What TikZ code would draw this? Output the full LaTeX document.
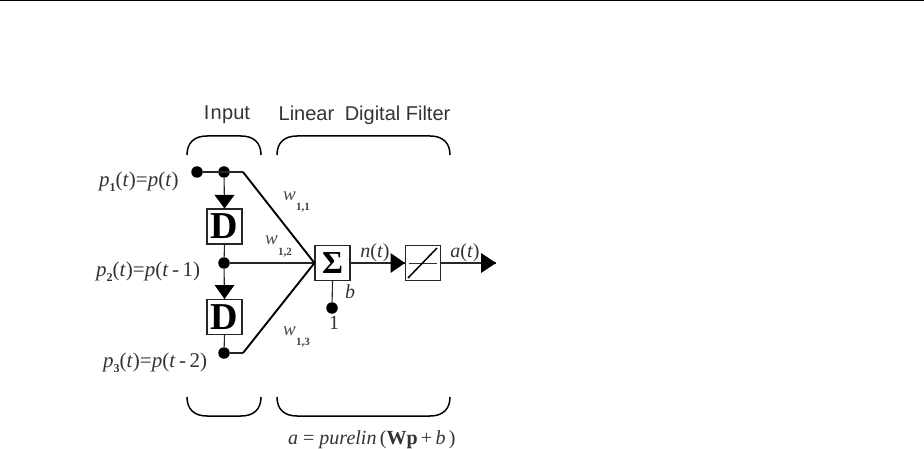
\documentclass[tikz,border=0pt]{standalone}
\usepackage{fontspec}
\setmainfont{Liberation Serif}
\setsansfont{Liberation Sans}
\tikzset{
 wire/.style={draw=black!85,line width=1.1pt},
 thick wire/.style={draw=black,line width=1.9pt},
 bracewire/.style={draw=black,line width=1.5pt},
 dotnode/.style={circle,fill=black,inner sep=0pt,minimum size=11.5pt},
 boxnode/.style={draw=black!85,fill=white,line width=1.1pt,minimum size=35pt,inner sep=0pt},
 tip/.style={fill=black,draw=none},
 lab/.style={inner sep=0pt,font=\fontsize{20pt}{20pt}\selectfont,text=black!80},
 plab/.style={inner sep=0pt,anchor=west,font=\fontsize{21pt}{21pt}\selectfont,text=black!80},
 weight/.style={inner sep=0pt,font=\fontsize{19pt}{19pt}\selectfont,text=black!70},
 wsub/.style={inner sep=0pt,font=\fontsize{11pt}{11pt}\selectfont\bfseries,text=black!75},
 head/.style={inner sep=0pt,font=\sffamily\fontsize{20pt}{20pt}\selectfont,text=black!80},
}
\newcommand{\subi}[1]{\raisebox{-5pt}{\fontsize{12pt}{12pt}\selectfont\textbf{#1}}}
\begin{document}
\begin{tikzpicture}[x=1pt,y=-1pt]
\useasboundingbox (0,0) rectangle (924,449);
\fill[white] (0,0) rectangle (924,449);
\coordinate (tl) at (0,0.8); \coordinate (tr) at (924,0.8);
\draw[black,line width=1.2pt] (tl) -- (tr);
% nodes
\node[dotnode] (p1) at (197,172) {};
\node[dotnode] (d1) at (224,172) {};
\node[dotnode] (d2) at (224,263) {};
\node[dotnode] (d3) at (224,353) {};
\node[dotnode] (bd) at (332,308) {};
\node[boxnode] (D1) at (224.5,226.5) {\fontsize{38pt}{38pt}\selectfont\textbf{D}};
\node[boxnode] (D2) at (224.5,317) {\fontsize{38pt}{38pt}\selectfont\textbf{D}};
\node[boxnode] (S) at (332.5,263) {};
\node[boxnode] (L) at (423,263) {};
\coordinate (k1) at (243,172);
\coordinate (k3) at (243,353);
\coordinate (out) at (496,263);
\node[inner sep=0pt,font=\fontsize{32pt}{32pt}\selectfont\bfseries] (sigma) at (332.5,263) {Σ};
% connectors
\draw[wire] (p1) -- (k1);
\draw[wire] (d1) -- (D1.north);
\draw[wire] (D1.south) -- (d2);
\draw[wire] (d2) -- (D2.north);
\draw[wire] (D2.south) -- (d3);
\draw[wire] (d3) -- (k3);
\draw[wire] (d2) -- (S.west);
\draw[thick wire] (k1) -- (S.west);
\draw[thick wire] (k3) -- (S.west);
\draw[wire] (S.south) -- (bd);
\draw[wire] (S.east) -- (L.west);
\draw[wire] (L.east) -- (out);
% arrow heads
\fill[tip] (214.5,195) -- (234.5,195) -- (D1.north) -- cycle;
\fill[tip] (214.5,285) -- (234.5,285) -- (D2.north) -- cycle;
\fill[tip] (390.5,253) -- (390.5,273) -- (L.west) -- cycle;
\fill[tip] (481,253) -- (481,273) -- (out) -- cycle;
% purelin glyph
\coordinate (g1) at (408,278); \coordinate (g2) at (437,248);
\coordinate (h1) at (409,263); \coordinate (h2) at (437,263);
\draw[draw=black!80,line width=.8pt] (h1) -- (h2);
\draw[draw=black,line width=1.5pt] (g1) -- (g2);
% braces
\draw[bracewire] (187,155) .. controls (187,143) and (194,136) .. (207,136) -- (241,136) .. controls (254,136) and (261,143) .. (261,155);
\draw[bracewire] (277,155) .. controls (277,143) and (284,136) .. (297,136) -- (430,136) .. controls (443,136) and (450,143) .. (450,155);
\draw[bracewire] (187,397) .. controls (187,409) and (194,416) .. (207,416) -- (241,416) .. controls (254,416) and (261,409) .. (261,397);
\draw[bracewire] (277,397) .. controls (277,409) and (284,416) .. (297,416) -- (430,416) .. controls (443,416) and (450,409) .. (450,397);
% labels
\node[head] (tin) at (227,115) {I\kern1pt n\kern.6pt put};
\node[head] (tlf) at (364.5,115) {Linear\hspace{5pt} Digital Filter};
\node[plab] (l1) at (99,182) {\textit{p}\subi{1}(\textit{t})=\textit{p}(\textit{t})};
\node[plab] (l2) at (96,272) {\textit{p}\subi{2}(\textit{t})=\textit{p}(\textit{t}\,-\,1)};
\node[plab] (l3) at (103,363) {\textit{p}\subi{3}(\textit{t})=\textit{p}(\textit{t}\,-\,2)};
\node[weight,anchor=west] (w11) at (283,196) {\textit{w}};
\node[weight,anchor=west] (w12) at (265,240) {\textit{w}};
\node[weight,anchor=west] (w13) at (283,331) {\textit{w}};
\node[wsub] (s11) at (303,208) {1,1};
\node[wsub] (s12) at (285,253) {1,2};
\node[wsub] (s13) at (303,343) {1,3};
\node[lab] (nt) at (375,253) {\textit{n}(\textit{t})};
\node[lab] (at) at (465,253) {\textit{a}(\textit{t})};
\node[lab] (b) at (350,292) {\textit{b}};
\node[lab] (one) at (334,323) {1};
\node[lab,anchor=west] (eq) at (288,440) {\textit{a} = \textit{purelin}\,(\textbf{Wp}\,+\,\textit{b}\,)};
\end{tikzpicture}
\end{document}
